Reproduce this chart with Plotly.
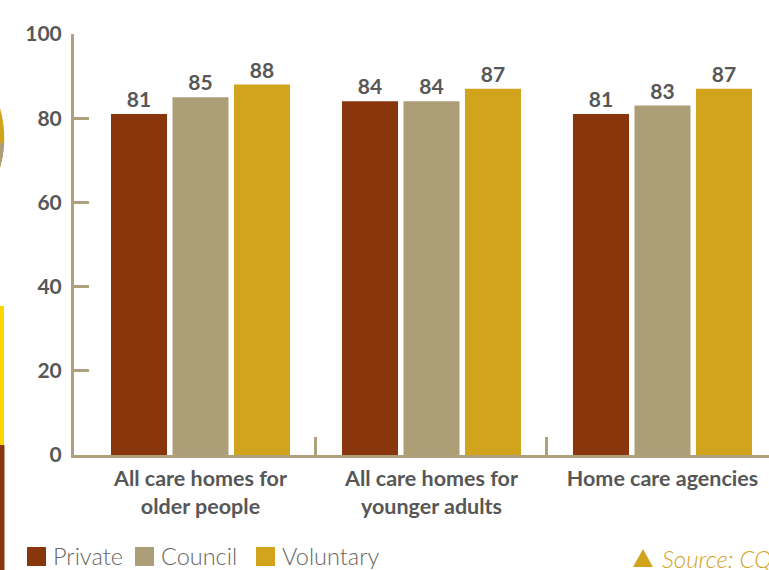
import numpy as np
import plotly.graph_objects as go

categories = ["All care homes for<br>older people", "All care homes for<br>younger adults", "Home care agencies"]
series_names = ["Private", "Council", "Voluntary"]
private_vals = [81, 84, 81]
council_vals = [85, 84, 83]
voluntary_vals = [88, 87, 87]
series_values = [private_vals, council_vals, voluntary_vals]
series_colors = ["#89360D", "#AC9E77", "#D2A41D"]
y_ticks = [0, 20, 40, 60, 80, 100]

AXIS = "#ADA07A"
TXT = "#575757"
W, H = 769, 570
L, R, T, B = 74, 0, 34, 115
PW, PH = W - L - R, H - T - B

def px2x(px):
    return (px - L) / PW

def py2y(py):
    return (H - B - py) / PH

xs = np.arange(len(categories))
fig = go.Figure()
for name, vals, col in zip(series_names, series_values, series_colors):
    fig.add_trace(go.Bar(
        x=xs, y=vals, name=name, marker=dict(color=col, line=dict(width=0)),
        text=[str(v) for v in vals], textposition="outside",
        textfont=dict(family="Lato", size=21, color=TXT, weight="bold"),
        cliponaxis=False, showlegend=False,
    ))

fig.update_layout(
    width=W, height=H, margin=dict(l=L, r=R, t=T, b=B, autoexpand=False),
    paper_bgcolor="white", plot_bgcolor="white",
    barmode="group", bargap=0.2013, bargroupgap=0.089,
    font=dict(family="Lato", color=TXT),
    xaxis=dict(
        range=[-0.5476, 2.4611], tickmode="array", tickvals=list(xs), ticktext=categories,
        ticks="", showline=True, linecolor=AXIS, linewidth=3, showgrid=False, zeroline=False,
        tickfont=dict(family="Lato", size=21.5, color=TXT, weight="bold"),
        ticklabelstandoff=2,
        minor=dict(tickmode="array", tickvals=[i + 0.5 for i in xs[:-1]], ticks="inside",
                   ticklen=18, tickwidth=2.5, tickcolor=AXIS, showgrid=False),
    ),
    yaxis=dict(
        range=[0, 100], tickmode="array", tickvals=y_ticks, ticks="inside", ticklen=15,
        tickwidth=2.5, tickcolor=AXIS, showline=True, linecolor=AXIS, linewidth=3,
        showgrid=False, zeroline=False, ticklabelstandoff=5,
        tickfont=dict(family="Lato", size=21, color=TXT, weight="bold"),
    ),
)

# legend drawn manually (larger swatches than plotly's legend)
legend_sq_x = [27, 135, 256]
sq = 19
ly0 = 547
for name, col, lx in zip(series_names, series_colors, legend_sq_x):
    fig.add_shape(type="rect", xref="paper", yref="paper",
                  x0=px2x(lx), x1=px2x(lx + sq), y0=py2y(ly0 + sq), y1=py2y(ly0),
                  fillcolor=col, line=dict(width=0))
    fig.add_annotation(xref="paper", yref="paper", x=px2x(lx + sq + 5), y=py2y(ly0 + sq / 2 - 1),
                       xanchor="left", yanchor="middle", text=name, showarrow=False,
                       font=dict(family="Lato", size=23.5, color="#666666", weight=300))

# source note (cut off at the right edge, as in the original)
fig.add_shape(type="path", xref="paper", yref="paper", line=dict(width=0), fillcolor="#D2A41D",
              path=f"M {px2x(633)},{py2y(567)} L {px2x(643)},{py2y(549)} L {px2x(653)},{py2y(567)} Z")
fig.add_annotation(xref="paper", yref="paper", x=px2x(660), y=py2y(558),
                   xanchor="left", yanchor="middle", text="<i>Source: CQC</i>", showarrow=False,
                   font=dict(family="Lato", size=24, color="#D2A41D", weight=300))

# slivers of neighbouring graphics at the left edge
fig.add_shape(type="path", xref="paper", yref="paper", line=dict(width=0), fillcolor="#D2A41D",
              path=f"M {px2x(0)},{py2y(108)} Q {px2x(8.5)},{py2y(138)} {px2x(0)},{py2y(168)} Z")
fig.add_shape(type="path", xref="paper", yref="paper", line=dict(width=0), fillcolor="#AC9E77",
              path=f"M {px2x(0)},{py2y(143)} L {px2x(4.2)},{py2y(143)} Q {px2x(3)},{py2y(158)} {px2x(0)},{py2y(167)} Z")
fig.add_shape(type="rect", xref="paper", yref="paper", line=dict(width=0), fillcolor="#FFD500",
              x0=px2x(0), x1=px2x(4), y0=py2y(445), y1=py2y(306))
fig.add_shape(type="rect", xref="paper", yref="paper", line=dict(width=0), fillcolor="#89360D",
              x0=px2x(0), x1=px2x(4.5), y0=py2y(570), y1=py2y(445))

fig.write_html("out.html")
